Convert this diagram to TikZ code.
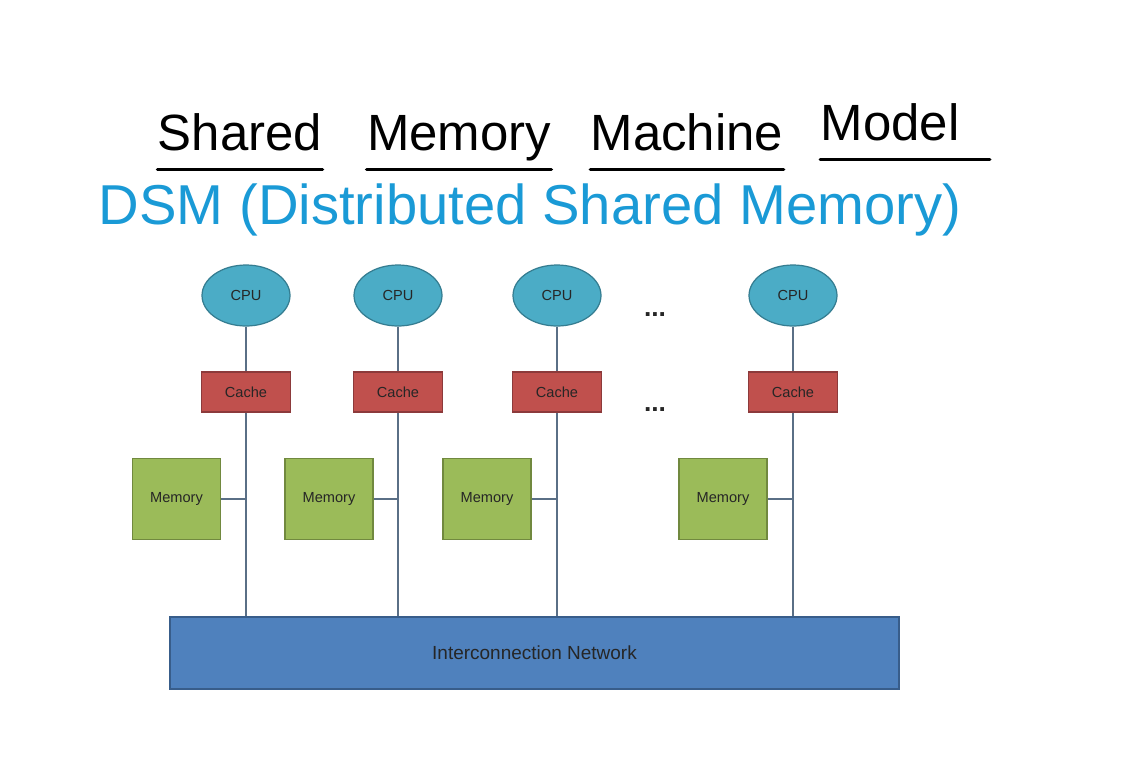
\documentclass[tikz,border=0pt]{standalone}
\usepackage{fontspec}
\setmainfont{Liberation Sans}
\usepackage{xcolor}
\usetikzlibrary{shapes, positioning}

\definecolor{cpufill}{HTML}{4BACC6}
\definecolor{cpuline}{HTML}{357D91}
\definecolor{cachefill}{HTML}{C0504D}
\definecolor{cacheline}{HTML}{8C3A3B}
\definecolor{memfill}{HTML}{9BBB59}
\definecolor{memline}{HTML}{71893F}
\definecolor{netfill}{HTML}{4F81BD}
\definecolor{netline}{HTML}{385D8A}
\definecolor{wirecolor}{HTML}{5A6F86}
\definecolor{penblue}{HTML}{1A9AD6}

\begin{document}
\begin{tikzpicture}[
    x=0.02cm, y=-0.02cm,
    font=\fontsize{8.3}{10}\selectfont,
    text=black!85,
    cpu/.style={
        ellipse,
        draw=cpuline,
        fill=cpufill,
        line width=0.7pt,
        inner sep=0pt,
        minimum width=1.76cm,
        minimum height=1.22cm
    },
    cache/.style={
        rectangle,
        draw=cacheline,
        fill=cachefill,
        line width=0.7pt,
        inner sep=0pt,
        minimum width=1.78cm,
        minimum height=0.8cm
    },
    memory/.style={
        rectangle,
        draw=memline,
        fill=memfill,
        line width=0.7pt,
        inner sep=0pt,
        minimum width=1.76cm,
        minimum height=1.62cm
    },
    network/.style={
        rectangle,
        draw=netline,
        fill=netfill,
        line width=0.7pt,
        inner sep=0pt,
        minimum width=14.58cm,
        minimum height=1.44cm,
        font=\fontsize{10.8}{13}\selectfont
    },
    dotsnode/.style={anchor=base, inner sep=0pt, font=\bfseries\fontsize{15}{18}\selectfont},
    title/.style={
        anchor=base,
        inner sep=0pt,
        text depth=0.38cm,
        text=black,
        font=\fontsize{29}{35}\selectfont
    },
    dsm/.style={inner sep=0pt, text=penblue, font=\fontsize{32}{38}\selectfont},
    uline/.style={draw, line width=2pt, line cap=round},
    wire/.style={draw=wirecolor, line width=0.8pt}
]

\useasboundingbox (0,0) rectangle (1121,764);

% title
\node[title] (shared) at (240,150) {Shared};
\node[title] (memory) at (459,150) {Memory};
\node[title] (machine) at (687,150) {Machine};
\node[title] (model) at (890,140) {Model};
\foreach \w in {shared, memory, machine}
    \draw[uline] (\w.south west) -- (\w.south east);
\draw[uline] (model.south west) -- ([xshift=0.6cm]model.south east);

\node[dsm] (dsm) at (530,210) {DSM (Distributed Shared Memory)};

% network
\node[network] (net) at (534.5,653) {Interconnection Network};

% processors
\foreach \x/\m [count=\i] in {246/176.5, 398/329, 557/487, 793/723} {
    \node[cpu] (cpu\i) at (\x,295.5) {CPU};
    \node[cache] (cache\i) at (\x,392) {Cache};
    \node[memory] (mem\i) at (\m,499) {Memory};
    \coordinate (tap\i) at (\x,499);
    \coordinate (drop\i) at (cache\i.south |- net.north);
    \draw[wire] (cpu\i) -- (cache\i);
    \draw[wire] (cache\i) -- (drop\i);
    \draw[wire] (mem\i) -- (tap\i);
}

\node[dotsnode] (dotsa) at (655,316) {...};
\node[dotsnode] (dotsb) at (655,411) {...};

\end{tikzpicture}
\end{document}
